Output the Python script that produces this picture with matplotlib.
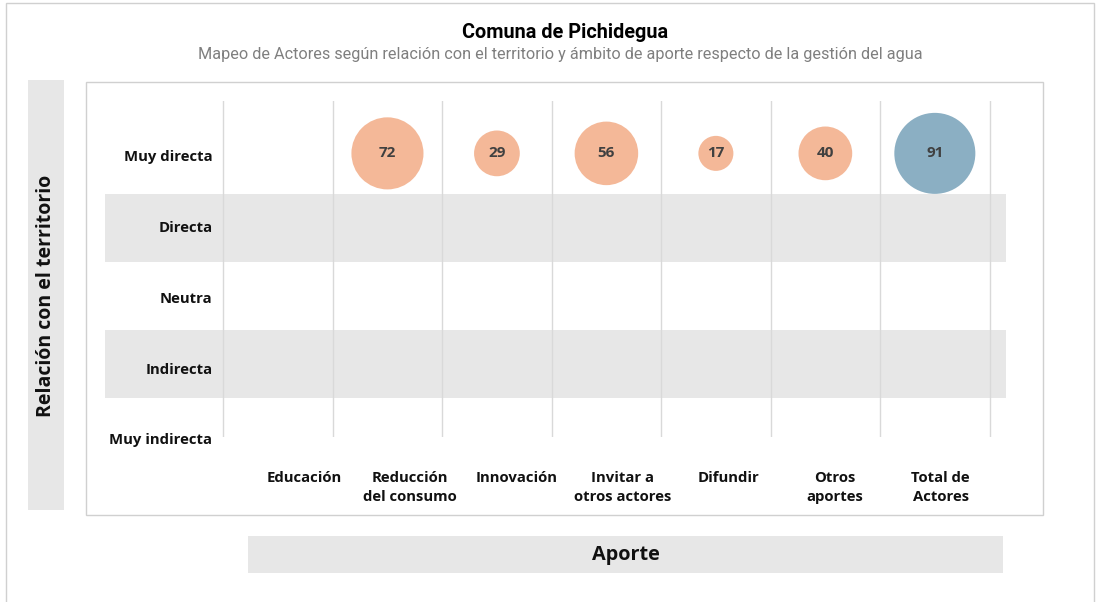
import matplotlib.pyplot as plt
from matplotlib.patches import Rectangle

# Relación con el territorio (rows, top to bottom) and aporte categories (columns)
relaciones = ["Muy directa", "Directa", "Neutra", "Indirecta", "Muy indirecta"]
aportes = ["Educación", "Reducción\ndel consumo", "Innovación", "Invitar a\notros actores",
           "Difundir", "Otros\naportes", "Total de\nActores"]

# Number of actors per aporte, all in the "Muy directa" row (Educación has none)
bubble_aporte = ["Reducción\ndel consumo", "Innovación", "Invitar a\notros actores",
                 "Difundir", "Otros\naportes", "Total de\nActores"]
bubble_relacion = ["Muy directa"] * 6
bubble_valor = [72, 29, 56, 17, 40, 91]

W, H = 1096, 602
ORANGE = "#F4B898"
BLUE = "#8BAFC3"
BAND = "#E7E7E7"
GRID = "#D9D9D9"
BORDER = "#D0D0D0"
TITLE_FONT = "Roboto"
FONT = "Open Sans"


def fx(px):
    return px / W


def fy(py):
    return 1 - py / H


def box(fig, x0, y0, x1, y1, **kw):
    fig.add_artist(Rectangle((fx(x0), fy(y1)), fx(x1) - fx(x0), fy(y0) - fy(y1),
                             transform=fig.transFigure, zorder=-5, **kw))


fig = plt.figure(figsize=(W / 100, H / 100), dpi=100)

# outer frame, plot frame and the two axis-title boxes
box(fig, 6, 3, 1094, 610, facecolor="none", edgecolor=BORDER, lw=1)
box(fig, 86, 82, 1043, 515, facecolor="white", edgecolor=BORDER, lw=1)
box(fig, 28, 80, 64, 510, facecolor=BAND, edgecolor="none")
box(fig, 248, 536, 1003, 573, facecolor=BAND, edgecolor="none")

fig.text(fx(46), fy(296), "Relación con el territorio", rotation=90, ha="center", va="center",
         fontsize=14, fontweight="bold", family=FONT, color="#111111")
fig.text(fx(626), fy(555), "Aporte", ha="center", va="center",
         fontsize=14.3, fontweight="bold", family=FONT, color="#111111")

fig.text(fx(565), fy(33), "Comuna de Pichidegua", ha="center", va="center",
         fontsize=14.3, fontweight="bold", family=TITLE_FONT, color="#000000")
fig.text(fx(560), fy(54), "Mapeo de Actores según relación con el territorio y ámbito de aporte "
         "respecto de la gestión del agua", ha="center", va="center",
         fontsize=11.7, family=TITLE_FONT, color="#7F7F7F")

ax = fig.add_axes([fx(105), fy(437), fx(1006) - fx(105), fy(101) - fy(437)])
ax.set_zorder(2)
ax.patch.set_visible(False)
ax.set_xlim(-1.58, 6.65)
ax.set_ylim(0.93, 5.87)
ax.axis("off")

n_rows = len(relaciones)
row_y = {r: n_rows - i for i, r in enumerate(relaciones)}
col_x = {a: i for i, a in enumerate(aportes)}

# alternating gray bands
for i, r in enumerate(relaciones):
    if i % 2 == 1:
        ax.axhspan(row_y[r] - 0.5, row_y[r] + 0.5, color=BAND, lw=0, zorder=0)

# column separators
for i in range(len(aportes) + 1):
    ax.axvline(i - 0.5, color=GRID, lw=1, zorder=1)

# row labels sit on a slightly wider pitch than the rows themselves
for i, r in enumerate(relaciones):
    ax.text(-0.6, row_y[r] + 0.04 - 0.04 * i, r, ha="right", va="center", fontsize=10.7,
            fontweight="bold", family=FONT, color="#111111")

# category labels, on a slightly narrower pitch than the columns
for i, a in enumerate(aportes):
    ax.text(col_x[a] + 0.24 - 0.031 * i, -0.1, a, transform=ax.get_xaxis_transform(),
            ha="center", va="top", fontsize=10.7, fontweight="bold", family=FONT,
            color="#111111", linespacing=1.5)

xs = [col_x[a] for a in bubble_aporte]
ys = [row_y[r] + 0.1 for r in bubble_relacion]
colors = [BLUE if a.startswith("Total") else ORANGE for a in bubble_aporte]
ax.scatter(xs, ys, s=[37.4 * v for v in bubble_valor], c=colors, lw=0, zorder=3, clip_on=False)
for x, y, v in zip(xs, ys, bubble_valor):
    ax.text(x, y, str(v), ha="center", va="center", fontsize=11, fontweight="bold",
            family=FONT, color="#404040", zorder=4)

fig.savefig("out.png", dpi=100)
